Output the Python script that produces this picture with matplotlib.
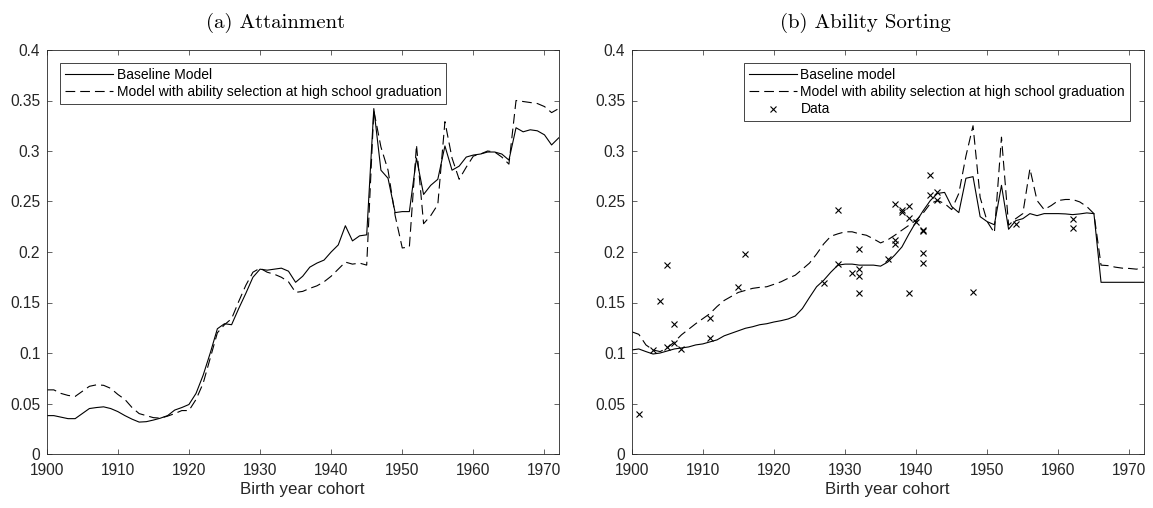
import matplotlib
matplotlib.use("Agg")
import matplotlib.pyplot as plt
from matplotlib.ticker import FixedLocator, FuncFormatter

plt.rcParams['font.family'] = ['Liberation Sans', 'DejaVu Sans']
plt.rcParams['lines.scale_dashes'] = False

# ---------------- data ----------------
years = list(range(1900, 1973))

attain_base = [0.038, 0.038, 0.0365, 0.035, 0.035, 0.040, 0.045, 0.046, 0.0467, 0.045,
               0.042, 0.038, 0.0345, 0.0316, 0.032, 0.0336, 0.0355, 0.038, 0.0435, 0.046,
               0.049, 0.060, 0.078, 0.100, 0.124, 0.129, 0.128, 0.144, 0.159, 0.175,
               0.183, 0.182, 0.183, 0.184, 0.181, 0.170, 0.176, 0.185, 0.189, 0.192,
               0.200, 0.207, 0.226, 0.211, 0.216, 0.217, 0.342, 0.281, 0.273, 0.239,
               0.240, 0.240, 0.293, 0.257, 0.266, 0.272, 0.305, 0.281, 0.285, 0.294,
               0.296, 0.297, 0.299, 0.299, 0.297, 0.291, 0.323, 0.319, 0.321, 0.320,
               0.316, 0.306, 0.313]

attain_sel = [0.0635, 0.0635, 0.060, 0.058, 0.057, 0.062, 0.067, 0.0685, 0.068, 0.065,
              0.059, 0.054, 0.046, 0.040, 0.038, 0.036, 0.0355, 0.0375, 0.040, 0.043,
              0.043, 0.054, 0.070, 0.095, 0.120, 0.128, 0.134, 0.151, 0.167, 0.180,
              0.184, 0.180, 0.178, 0.175, 0.1705, 0.160, 0.161, 0.164, 0.1665, 0.1705,
              0.176, 0.183, 0.190, 0.188, 0.189, 0.187, 0.340, 0.304, 0.281, 0.236,
              0.204, 0.205, 0.306, 0.228, 0.236, 0.247, 0.329, 0.293, 0.272, 0.284,
              0.295, 0.297, 0.300, 0.299, 0.294, 0.287, 0.350, 0.349, 0.348, 0.347,
              0.344, 0.338, 0.342]

sort_base = [0.103, 0.104, 0.1014, 0.099, 0.100, 0.102, 0.104, 0.105, 0.106, 0.108,
             0.109, 0.111, 0.113, 0.117, 0.1195, 0.122, 0.1245, 0.126, 0.128, 0.129,
             0.1307, 0.132, 0.1337, 0.1366, 0.144, 0.155, 0.1656, 0.172, 0.180, 0.187,
             0.188, 0.188, 0.187, 0.187, 0.187, 0.186, 0.190, 0.197, 0.205, 0.218,
             0.230, 0.241, 0.251, 0.258, 0.259, 0.245, 0.239, 0.273, 0.2746, 0.235,
             0.230, 0.227, 0.266, 0.2225, 0.231, 0.233, 0.238, 0.236, 0.238, 0.238,
             0.238, 0.2377, 0.237, 0.2377, 0.2387, 0.238, 0.170, 0.170, 0.170, 0.170,
             0.170, 0.170, 0.170]

sort_sel = [0.121, 0.1185, 0.108, 0.103, 0.1014, 0.105, 0.111, 0.118, 0.1235, 0.129,
            0.134, 0.139, 0.146, 0.152, 0.156, 0.160, 0.162, 0.164, 0.165, 0.1656,
            0.168, 0.1705, 0.174, 0.177, 0.183, 0.189, 0.198, 0.208, 0.2156, 0.218,
            0.220, 0.220, 0.218, 0.2166, 0.213, 0.209, 0.212, 0.2166, 0.2216, 0.2265,
            0.2315, 0.2387, 0.248, 0.251, 0.248, 0.242, 0.258, 0.295, 0.325, 0.254,
            0.230, 0.219, 0.3137, 0.2265, 0.233, 0.238, 0.2825, 0.251, 0.242, 0.246,
            0.251, 0.252, 0.252, 0.2496, 0.245, 0.238, 0.187, 0.1865, 0.185, 0.184,
            0.1837, 0.183, 0.185]

data_years = [1901, 1903, 1904, 1905, 1905, 1906, 1906, 1907, 1911, 1911, 1915, 1916,
              1927, 1929, 1929, 1931, 1932, 1932, 1932, 1932, 1936, 1937, 1937, 1937,
              1938, 1938, 1939, 1939, 1939, 1940, 1941, 1941, 1941, 1941, 1942, 1942,
              1943, 1943, 1948, 1954, 1962, 1962]
data_values = [0.0395, 0.103, 0.151, 0.187, 0.1057, 0.129, 0.1096, 0.104, 0.135, 0.115,
               0.1656, 0.198, 0.169, 0.2413, 0.188, 0.179, 0.2033, 0.183, 0.176, 0.159,
               0.1928, 0.2472, 0.2119, 0.2076, 0.2399, 0.2415, 0.2455, 0.2333, 0.1597,
               0.230, 0.2218, 0.2205, 0.1993, 0.1888, 0.276, 0.2564, 0.2597, 0.251,
               0.160, 0.2277, 0.2324, 0.224]

xticks = [1900, 1910, 1920, 1930, 1940, 1950, 1960, 1970]
yticks = [0, 0.05, 0.1, 0.15, 0.2, 0.25, 0.3, 0.35, 0.4]

titles = ["(a) Attainment", "(b) Ability Sorting"]
xlabel = "Birth year cohort"
labels_a = ["Baseline Model", "Model with ability selection at high school graduation"]
labels_b = ["Baseline model", "Model with ability selection at high school graduation", "Data"]

# ---------------- figure ----------------
W, H = 1153, 508
fig = plt.figure(figsize=(W / 100, H / 100), dpi=100)
axc = '#262626'

ax1 = fig.add_axes([46.7 / W, 1 - 454 / H, 512 / W, 404 / H])
ax2 = fig.add_axes([631.7 / W, 1 - 454 / H, 512 / W, 404 / H])

lw = 0.8
dash = (0, (7.0, 3.6))

l1, = ax1.plot(years, attain_base, color='black', lw=lw, label=labels_a[0])
l2, = ax1.plot(years, attain_sel, color='black', lw=lw, linestyle=dash, label=labels_a[1])

m1, = ax2.plot(years, sort_base, color='black', lw=lw, label=labels_b[0])
m2, = ax2.plot(years, sort_sel, color='black', lw=lw, linestyle=dash, label=labels_b[1])
m3, = ax2.plot(data_years, data_values, linestyle='none', marker='x', color='black',
               markersize=5, markeredgewidth=0.8, label=labels_b[2])

fmt = FuncFormatter(lambda v, p: ('%g' % v))
for ax in (ax1, ax2):
    ax.set_xlim(1900, 1972)
    ax.set_ylim(0, 0.4)
    ax.xaxis.set_major_locator(FixedLocator(xticks))
    ax.yaxis.set_major_locator(FixedLocator(yticks))
    ax.yaxis.set_major_formatter(fmt)
    ax.tick_params(direction='in', top=True, right=True, length=3.4, width=0.5,
                   color=axc, labelcolor=axc, labelsize=11.2, pad=4.6)
    ax.tick_params(axis='x', pad=6.8)
    for s in ax.spines.values():
        s.set_color(axc)
        s.set_linewidth(0.6)
    ax.set_xlabel(xlabel, fontsize=12.2, color=axc, labelpad=2.5)

leg_kw = dict(fontsize=10, frameon=True, fancybox=False, framealpha=1,
              borderpad=0.35, labelspacing=0.25, handlelength=3.45,
              handletextpad=0.25, borderaxespad=0, numpoints=1)
lg1 = ax1.legend(handles=[l1, l2], loc='upper left', bbox_to_anchor=(0.0268, 0.9686), **leg_kw)
lg2 = ax2.legend(handles=[m1, m2, m3], loc='upper right', bbox_to_anchor=(0.973, 0.9686), **leg_kw)
for lg in (lg1, lg2):
    lg.get_frame().set_edgecolor(axc)
    lg.get_frame().set_linewidth(0.6)
    for t in lg.get_texts():
        t.set_color('black')

fig.text(276 / W, 1 - 27.5 / H, titles[0], family='cmr10', fontsize=15,
         ha='center', va='baseline')
fig.text(865 / W, 1 - 27.5 / H, titles[1], family='cmr10', fontsize=15,
         ha='center', va='baseline')

fig.savefig('out.png', dpi=100)
